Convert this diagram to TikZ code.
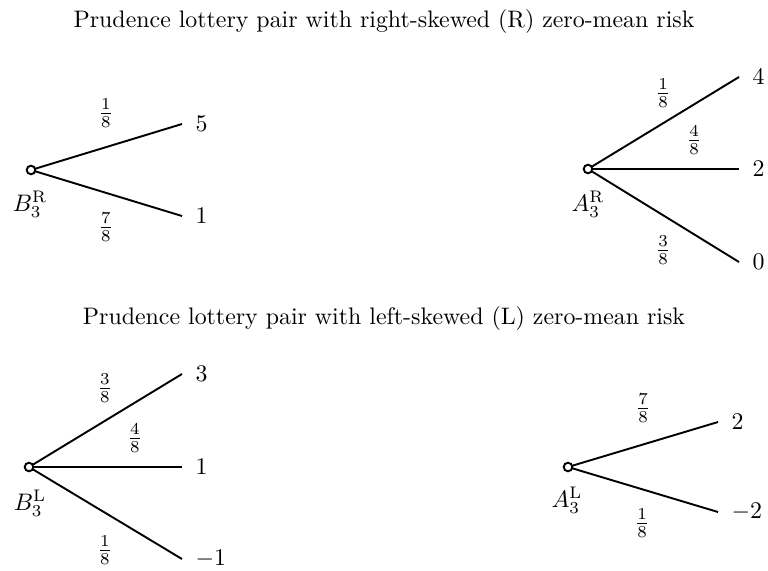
\documentclass[tikz,border=0pt]{standalone}
\begin{document}
\begin{tikzpicture}[x=0.4188pt,y=-0.4188pt,
  root/.style={circle,draw,line width=0.8pt,fill=white,inner sep=0pt,minimum size=3.6pt},
  leaf/.style={anchor=west,inner xsep=5.5pt,inner ysep=0pt},
  br/.style={line width=0.8pt},
  prob/.style={inner sep=0pt},
  ttl/.style={inner sep=0pt},
  lbl/.style={inner sep=0pt}]
\useasboundingbox (0,0) rectangle (768,570);
% titles
\node[ttl] (t1) at (384,22) {Prudence lottery pair with right-skewed (R) zero-mean risk};
\node[ttl] (t2) at (384,319) {Prudence lottery pair with left-skewed (L) zero-mean risk};
% B3R
\node[leaf] (b1) at (182,124) {$5$};
\node[leaf] (b2) at (182,216) {$1$};
\coordinate (bR) at (31,170);
\draw[br] (bR) -- (b1.west);
\draw[br] (bR) -- (b2.west);
\node[root] (BR) at (bR) {};
\node[prob] (pb1) at (106,113) {$\frac{1}{8}$};
\node[prob] (pb2) at (106,227) {$\frac{7}{8}$};
\node[lbl] (lbR) at (30,204) {$B_3^{\mathrm{R}}$};
% A3R
\node[leaf] (a1) at (739,77) {$4$};
\node[leaf] (a2) at (739,169) {$2$};
\node[leaf] (a3) at (739,262) {$0$};
\coordinate (aR) at (588,169);
\draw[br] (aR) -- (a1.west);
\draw[br] (aR) -- (a2.west);
\draw[br] (aR) -- (a3.west);
\node[root] (AR) at (aR) {};
\node[prob] (pa1) at (663,93) {$\frac{1}{8}$};
\node[prob] (pa2) at (694,140) {$\frac{4}{8}$};
\node[prob] (pa3) at (663,250) {$\frac{3}{8}$};
\node[lbl] (laR) at (588,204) {$A_3^{\mathrm{R}}$};
% B3L
\node[leaf] (c1) at (182,374) {$3$};
\node[leaf] (c2) at (182,467) {$1$};
\node[leaf] (c3) at (182,559) {$-1$};
\coordinate (bL) at (29,467);
\draw[br] (bL) -- (c1.west);
\draw[br] (bL) -- (c2.west);
\draw[br] (bL) -- (c3.west);
\node[root] (BL) at (bL) {};
\node[prob] (pc1) at (105,388) {$\frac{3}{8}$};
\node[prob] (pc2) at (135,438) {$\frac{4}{8}$};
\node[prob] (pc3) at (105,550) {$\frac{1}{8}$};
\node[lbl] (lbL) at (30,503) {$B_3^{\mathrm{L}}$};
% A3L
\node[leaf] (d1) at (718,422) {$2$};
\node[leaf] (d2) at (718,512) {$-2$};
\coordinate (aL) at (568,467);
\draw[br] (aL) -- (d1.west);
\draw[br] (aL) -- (d2.west);
\node[root] (AL) at (aL) {};
\node[prob] (pd1) at (643,408) {$\frac{7}{8}$};
\node[prob] (pd2) at (642,523) {$\frac{1}{8}$};
\node[lbl] (laL) at (567,500) {$A_3^{\mathrm{L}}$};
\end{tikzpicture}
\end{document}
